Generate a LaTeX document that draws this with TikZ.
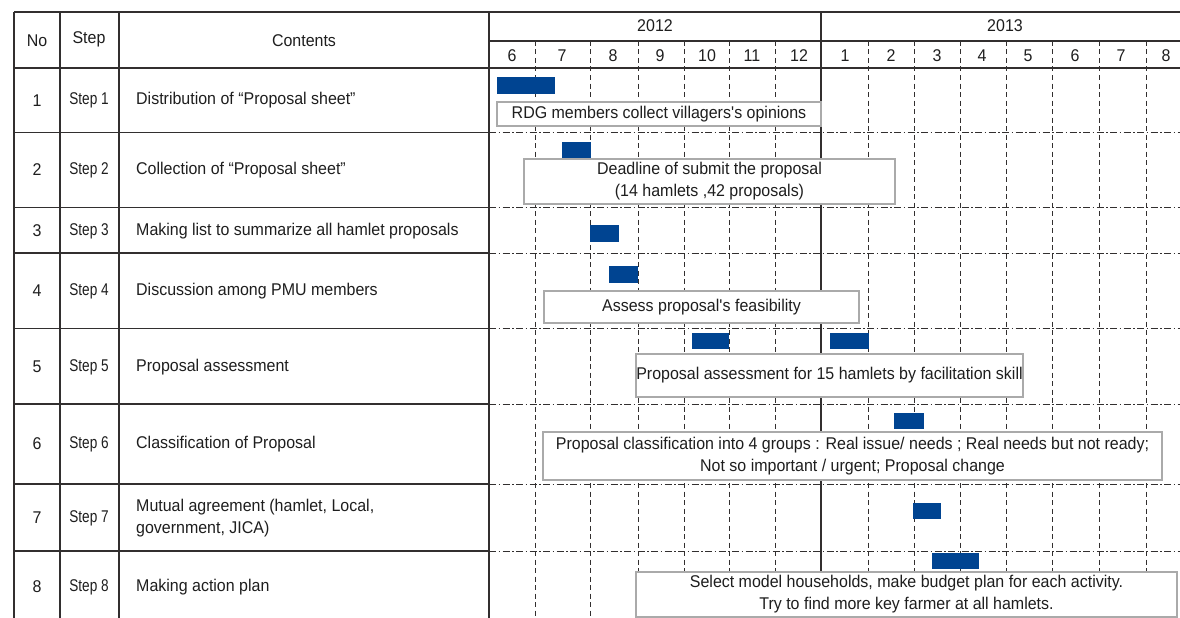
\documentclass[tikz,border=0pt]{standalone}
\usepackage{fontspec}
\setmainfont{Liberation Sans}[FakeStretch=0.94]
\newfontfamily\narrowfont{Liberation Sans}[FakeStretch=0.8]
\usetikzlibrary{fit}

\definecolor{ink}{RGB}{30,30,30}
\definecolor{rule}{RGB}{50,47,47}
\definecolor{boxline}{RGB}{170,170,170}
\definecolor{barblue}{RGB}{0,68,145}

\tikzset{
  tbl/.style={draw=rule, line width=1.5pt},
  yearline/.style={draw=rule, line width=1.8pt},
  monthgrid/.style={draw=rule, line width=0.9pt, dash pattern=on 5pt off 3.5pt},
  rowsep/.style={draw=rule, line width=0.9pt, dash pattern=on 7pt off 2.5pt on 1.5pt off 2.5pt},
  lbl/.style={text=ink, inner sep=0pt, font=\fontsize{17}{22}\selectfont},
  steplbl/.style={text=ink, inner sep=0pt, font=\narrowfont\fontsize{17}{22}\selectfont},
  bar/.style={fill=barblue, draw=none, inner sep=0pt},
  note/.style={draw=boxline, line width=1.2pt, fill=white, inner sep=0pt,
    text=ink, align=center, font=\fontsize{17}{22}\selectfont},
}
% straight apostrophe
\newcommand{\sq}{\textquotesingle}

\begin{document}
\begin{tikzpicture}[x=1pt, y=-1pt]
\useasboundingbox (0,0) rectangle (1180,618);

% month separators (dashed)
\foreach \mx in {535,590,638,684,729,775,868,914,960,1006,1052,1099,1146}
  \draw[monthgrid] (\mx,41) -- (\mx,618);

% row separators in the schedule area (dash-dot)
\foreach \ry in {132.5,207.5,253,328.5,404,484,551}
  \draw[rowsep] (489,\ry) -- (1180,\ry);

% solid table rules of the left part
\foreach \ry in {132.5,207.5,253,328.5,404,484,551}
  \draw[tbl] (14,\ry) -- (489,\ry);
\draw[tbl] (14,12) -- (1180,12);
\draw[tbl] (489,41) -- (1180,41);
\draw[tbl] (14,68) -- (1180,68);
\foreach \vx in {14,60,119,489}
  \draw[tbl] (\vx,12) -- (\vx,618);
% boundary between the two years
\draw[yearline] (821,12) -- (821,618);

% header
\node[lbl] (hNo) at (37,41) {No};
\node[lbl] (hStep) at (89,39) {Step};
\node[lbl] (hCont) at (304,41) {Contents};
\node[lbl] (y2012) at (655,26) {2012};
\node[lbl] (y2013) at (1005,26) {2013};
\foreach \m/\mx in {6/512,7/562,8/613,9/660,10/707,11/752,12/799}
  \node[lbl] (m12-\m) at (\mx,56) {\m};
\foreach \m/\mx in {1/845,2/891,3/937,4/982,5/1028,6/1075,7/1121,8/1166}
  \node[lbl] (m13-\m) at (\mx,56) {\m};

% rows: number, step, contents
\foreach \n/\ry/\txt in {
    1/100.5/{Distribution of “Proposal sheet”},
    2/170/{Collection of “Proposal sheet”},
    3/231/{Making list to summarize all hamlet proposals},
    4/291/{Discussion among PMU members},
    5/367/{Proposal assessment},
    6/444/{Classification of Proposal},
    7/518/{Mutual agreement (hamlet, Local,\\government, JICA)},
    8/587/{Making action plan}} {
  \node[lbl] (no\n) at (37,\ry) {\n};
  \node[steplbl] (step\n) at (89,\ry) {Step \n};
  \node[lbl, anchor=west, align=left] (cont\n) at (136,\ry) {\txt};
}

% activity bars
\node[bar, fit={(497,77)(555,94)}] (bar1) {};
\node[bar, fit={(562,142)(591,158)}] (bar2) {};
\node[bar, fit={(590,225)(619,242)}] (bar3) {};
\node[bar, fit={(609,266)(638,283)}] (bar4) {};
\node[bar, fit={(692,333)(729,349)}] (bar5a) {};
\node[bar, fit={(830,333)(869,349)}] (bar5b) {};
\node[bar, fit={(894,413)(924,429)}] (bar6) {};
\node[bar, fit={(913,503)(941,519)}] (bar7) {};
\node[bar, fit={(932,553)(979,569)}] (bar8) {};

% remarks
\node[note, minimum width=324pt, minimum height=24pt] (note1) at (659,114)
  {RDG members collect villagers\sq s opinions};
\node[note, minimum width=371pt, minimum height=45pt] (note2) at (709.5,181.5)
  {Deadline of submit the proposal\\(14 hamlets ,42 proposals)};
\node[note, minimum width=315pt, minimum height=32pt] (note4) at (701.5,307)
  {Assess proposal\sq s feasibility};
\node[note, minimum width=387pt, minimum height=43pt] (note5) at (829.5,375.5)
  {Proposal assessment for 15 hamlets by facilitation skill};
\node[note, minimum width=619pt, minimum height=48pt] (note6) at (852.5,456)
  {Proposal classification into 4 groups : Real issue/ needs ; Real needs but not ready;\\Not so important / urgent; Proposal change};
\node[note, minimum width=541pt, minimum height=45pt] (note8) at (906.5,594.5)
  {Select model households, make budget plan for each activity.\\Try to find more key farmer at all hamlets.};
\end{tikzpicture}
\end{document}
